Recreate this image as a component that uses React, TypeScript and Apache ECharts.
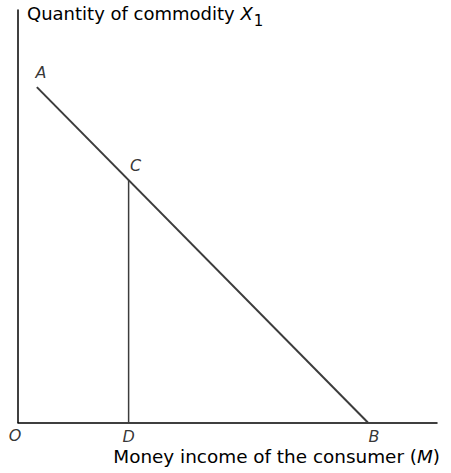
import React, { useEffect, useRef } from "react";
import * as echarts from "echarts";

// Points of the budget line A-B and the perpendicular C-D (axis units 0..100)
const lineAB: [number, number][] = [
  [4.5, 81.3],
  [83.5, 0],
];
const lineCD: [number, number][] = [
  [26.4, 58.8],
  [26.4, 0],
];
const pointLabels = ["A", "C", "O", "D", "B"];
const pointCoords: [number, number][] = [
  [4.5, 81.3],
  [26.4, 58.8],
  [0, 0],
  [26.4, 0],
  [83.5, 0],
];
const labelOffsets: [number, number][] = [
  [4, -15],
  [7, -14],
  [-3, 13],
  [0, 14],
  [6, 14],
];
const yTitle = "Quantity of commodity ";
const yTitleVar = "X";
const yTitleSub = "1";
const xTitle = "Money income of the consumer (";
const xTitleVar = "M";

const FONT = "DejaVu Sans";

export default function App() {
  const ref = useRef<HTMLDivElement>(null);
  useEffect(() => {
    document.body.style.margin = "0";
    const chart = echarts.init(ref.current!, null, { renderer: "svg" });
    chart.setOption({
      animation: false,
      grid: { left: 18, right: 14, top: 10, bottom: 50.5 },
      xAxis: {
        type: "value",
        min: 0,
        max: 100,
        axisLine: { lineStyle: { color: "#000", width: 1.5 } },
        axisTick: { show: false },
        axisLabel: { show: false },
        splitLine: { show: false },
      },
      yAxis: {
        type: "value",
        min: 0,
        max: 100,
        axisLine: { show: true, lineStyle: { color: "#000", width: 1.5 } },
        axisTick: { show: false },
        axisLabel: { show: false },
        splitLine: { show: false },
      },
      series: [
        {
          type: "line",
          data: lineAB,
          symbol: "none",
          lineStyle: { color: "#3c3c3c", width: 2 },
        },
        {
          type: "line",
          data: lineCD,
          symbol: "none",
          lineStyle: { color: "#3c3c3c", width: 1.5 },
        },
        {
          type: "scatter",
          symbolSize: 1,
          itemStyle: { color: "rgba(0,0,0,0)" },
          label: {
            show: true,
            position: "inside",
            fontFamily: FONT,
            fontStyle: "italic",
            fontSize: 16,
            color: "#000",
            formatter: (p: any) => pointLabels[p.dataIndex],
          },
          data: pointCoords.map((c, i) => ({
            value: c,
            label: { offset: labelOffsets[i] },
          })),
        },
      ],
      graphic: [
        {
          type: "text",
          left: 27,
          top: 4,
          style: {
            text: `{a|${yTitle}}{x|${yTitleVar}}{s|${yTitleSub}}`,
            rich: {
              a: { fontFamily: FONT, fontSize: 18, color: "#000", lineHeight: 22, verticalAlign: "top" },
              x: { fontFamily: FONT, fontSize: 18, fontStyle: "italic", color: "#000", lineHeight: 22, verticalAlign: "top" },
              s: { fontFamily: FONT, fontSize: 15, color: "#000", padding: [9, 0, 0, 1], lineHeight: 17, verticalAlign: "top" },
            },
          },
        },
        {
          type: "text",
          right: 11,
          top: 447,
          style: {
            text: `{a|${xTitle}}{x|${xTitleVar}}{a|)}`,
            rich: {
              a: { fontFamily: FONT, fontSize: 18.4, color: "#000" },
              x: { fontFamily: FONT, fontSize: 18.4, fontStyle: "italic", color: "#000" },
            },
          },
        },
      ],
    });
    return () => chart.dispose();
  }, []);
  return <div ref={ref} style={{ width: 451, height: 473 }} />;
}
